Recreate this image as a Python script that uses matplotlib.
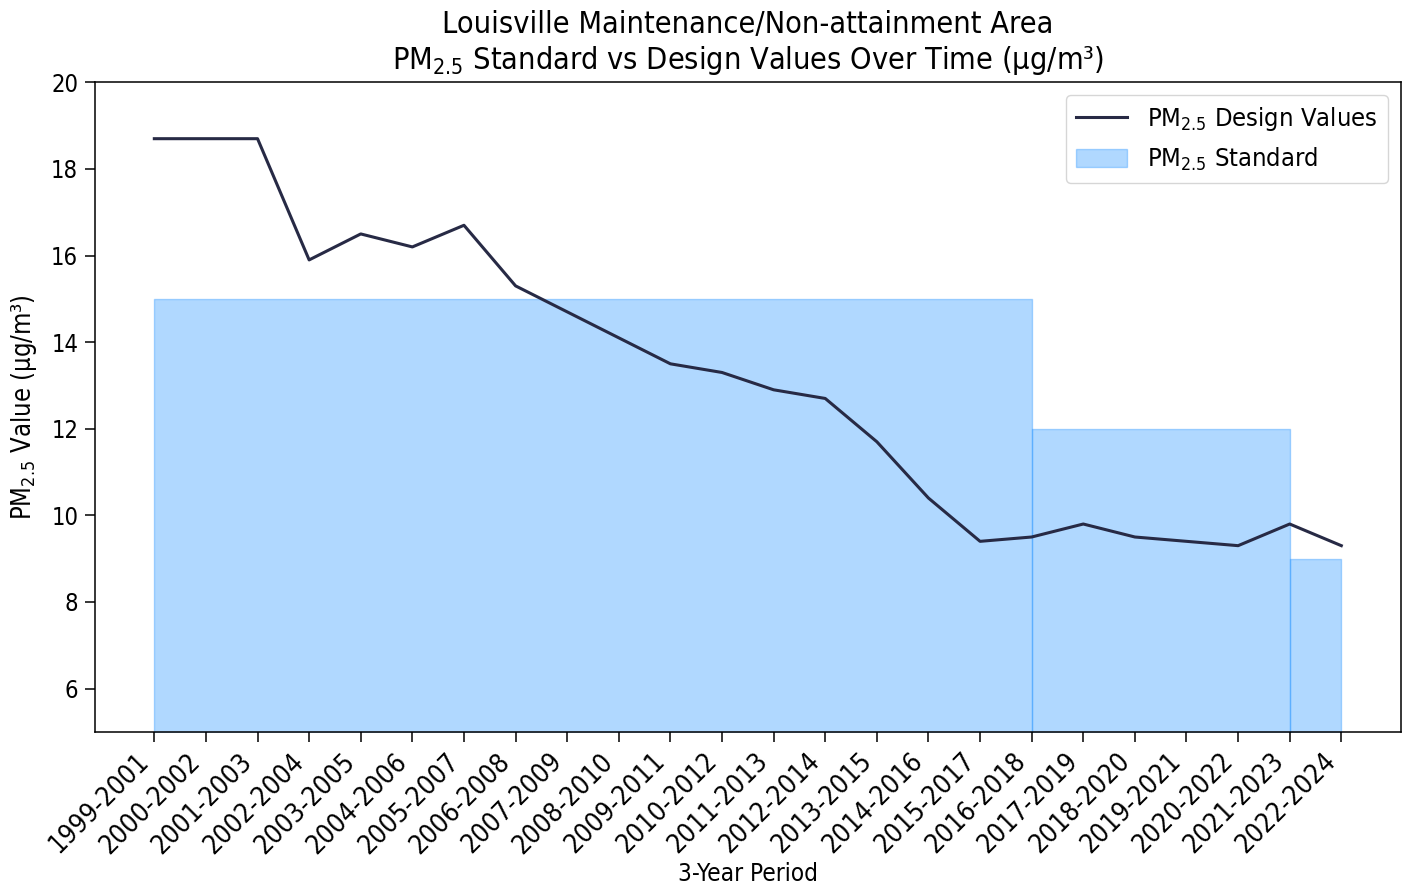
import matplotlib
matplotlib.use("Agg")
import matplotlib.pyplot as plt

plt.rcParams["font.stretch"] = "condensed"

periods = ["1999-2001", "2000-2002", "2001-2003", "2002-2004", "2003-2005",
           "2004-2006", "2005-2007", "2006-2008", "2007-2009", "2008-2010",
           "2009-2011", "2010-2012", "2011-2013", "2012-2014", "2013-2015",
           "2014-2016", "2015-2017", "2016-2018", "2017-2019", "2018-2020",
           "2019-2021", "2020-2022", "2021-2023", "2022-2024"]
design_values = [18.7, 18.7, 18.7, 15.9, 16.5, 16.2, 16.7, 15.3, 14.7, 14.1,
                 13.5, 13.3, 12.9, 12.7, 11.7, 10.4, 9.4, 9.5, 9.8, 9.5,
                 9.4, 9.3, 9.8, 9.3]

# standard levels: from period -> to period
std_start = ["1999-2001", "2016-2018", "2021-2023"]
std_end = ["2016-2018", "2021-2023", "2022-2024"]
std_level = [15, 12, 9]

x = list(range(len(periods)))

fig = plt.figure(figsize=(14.07, 8.86), dpi=100)
ax = fig.add_axes([0.0675, 0.174, 0.928, 0.733])

for i, (s, e, lev) in enumerate(zip(std_start, std_end, std_level)):
    i0 = periods.index(s)
    i1 = periods.index(e)
    ax.fill_between(x[i0:i1 + 1], 0, lev, color="dodgerblue", alpha=0.35,
                    label="PM$_{2.5}$ Standard" if i == 0 else None)

ax.plot(x, design_values, color="#272a45", linewidth=2.2,
        label="PM$_{2.5}$ Design Values")

ax.set_ylim(5, 20)
ax.set_yticks(range(6, 21, 2))
ax.set_xticks(x)
ax.set_xticklabels(periods, rotation=45, ha="right", fontsize=19)
ax.tick_params(axis="y", labelsize=17)
ax.tick_params(length=7, width=1.1, pad=5)
for sp in ax.spines.values():
    sp.set_linewidth(1.1)

ax.set_title("Louisville Maintenance/Non-attainment Area\n"
             "PM$_{2.5}$ Standard vs Design Values Over Time (µg/m³)",
             fontsize=22, pad=10)
ax.set_xlabel("3-Year Period", fontsize=17.5, labelpad=2)
ax.set_ylabel("PM$_{2.5}$ Value (µg/m³)", fontsize=18.4, labelpad=9)

handles, labels = ax.get_legend_handles_labels()
ax.legend(handles[::-1], labels[::-1], loc="upper right", fontsize=18.3)

fig.savefig("out.png", dpi=100)
